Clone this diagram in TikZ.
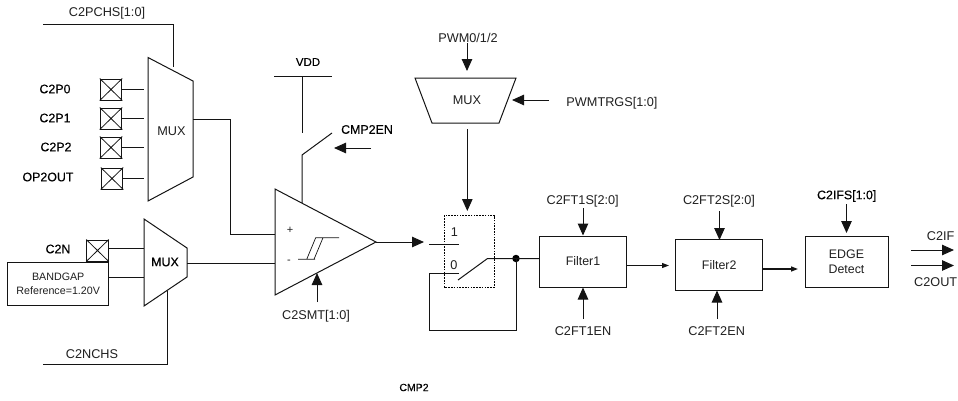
\documentclass[tikz,border=0pt]{standalone}
\usepackage{fontspec}
\setmainfont{Liberation Sans}
\newfontfamily\semibold[FakeBold=0.35]{Liberation Sans}
\usetikzlibrary{arrows.meta}
\tikzset{
  x=1pt,y=-1pt,
  wire/.style={draw=black!92,line width=1pt},
  fat/.style={wire,-{Triangle[length=12pt,width=10.5pt]}},
  slim/.style={wire,-{Triangle[length=7pt,width=5pt]}},
  lbl/.style={inner sep=0pt,font=\fontsize{12.7}{14}\selectfont,text=black!88},
  blbl/.style={inner sep=0pt,font=\semibold\fontsize{12.4}{14}\selectfont,text=black},
  block/.style={draw=black!92,line width=1pt,inner sep=0pt,align=center,font=\fontsize{12.4}{15.5}\selectfont,text=black!88},
  pad/.style={draw=black!92,line width=1pt,minimum width=21.5pt,minimum height=21pt,inner sep=0pt},
  padx/.style={wire,line width=0.8pt},
  shapeline/.style={wire,line join=miter},
}
\newcommand{\padcross}[1]{\draw[padx] (#1.north west)--(#1.south east) (#1.north east)--(#1.south west);}
\begin{document}
\begin{tikzpicture}
\useasboundingbox (0,0) rectangle (958,400);
% positive input multiplexer
\draw[shapeline] (148,57.5)--(193,81)--(193,177)--(148,201)--cycle;
\node[lbl] (muxp) at (171.5,131) {MUX};
\node[lbl] (lchs) at (107,13) {C2PCHS[1:0]};
\coordinate (chsa) at (43,24); \coordinate (chsb) at (173,67);
\draw[wire] (chsa) -| (chsb);
\node[pad] (p0) at (111,89.5) {}; \padcross{p0}
\node[pad] (p1) at (111,118.5) {}; \padcross{p1}
\node[pad] (p2) at (111,147.5) {}; \padcross{p2}
\node[pad] (p3) at (112,178.5) {}; \padcross{p3}
\node[blbl] (l0) at (55,89) {C2P0};
\node[blbl] (l1) at (55,118) {C2P1};
\node[blbl] (l2) at (56,147) {C2P2};
\node[blbl] (l3) at (48,177) {OP2OUT};
\coordinate (e0) at (144,89.5); \coordinate (e1) at (144,118.5);
\coordinate (e2) at (144,147.5); \coordinate (e3) at (144,178.5);
\draw[wire] (p0.east)--(e0); \draw[wire] (p1.east)--(e1);
\draw[wire] (p2.east)--(e2); \draw[wire] (p3.east)--(e3);
% negative input multiplexer
\draw[shapeline] (144,219)--(187,248)--(187,277)--(144,306)--cycle;
\node[blbl] (muxn) at (165,262) {MUX};
\node[blbl] (c2n) at (58,249) {C2N};
\node[pad] (pn) at (97.5,250.5) {}; \padcross{pn}
\node[block,minimum width=100.5pt,minimum height=43.5pt,font=\fontsize{10.7}{14}\selectfont] (bg) at (58.2,284.2) {BANDGAP\\Reference=1.20V};
\coordinate (en) at (144,248); \coordinate (eb) at (144,277);
\draw[wire] (108.2,248)--(en);
\draw[wire] (108.5,277)--(eb);
\node[lbl] (lnchs) at (92,354) {C2NCHS};
\coordinate (nchsa) at (43,364); \coordinate (nchsb) at (167,291);
\draw[wire] (nchsa) -| (nchsb);
% comparator
\draw[shapeline] (275,189)--(376,242)--(275,295)--cycle;
\coordinate (cmpout) at (376,242);
\coordinate (muxpout) at (193,119); \coordinate (cmpplus) at (275,234);
\draw[wire] (muxpout) -- (230,119) -- (230,234) -- (cmpplus);
\coordinate (muxnout) at (187,263); \coordinate (cmpminus) at (275,263);
\draw[wire] (muxnout)--(cmpminus);
\node[lbl,font=\fontsize{11}{12}\selectfont] (plus) at (290,230) {+};
\node[lbl,font=\fontsize{11}{12}\selectfont] (minus) at (289,262) {-};
\draw[wire,line width=0.7pt] (298,259.3)--(315,259.3) (306.7,259.3)--(315.7,237.7)--(339,237.7) (314,259.3)--(323,237.7);
\node[lbl] (lsmt) at (316,316) {C2SMT[1:0]};
\coordinate (smta) at (317,302); \coordinate (smtb) at (317,273);
\draw[fat] (smta)--(smtb);
% supply and enable
\node[blbl,font=\semibold\fontsize{11.5}{14}\selectfont] (vdd) at (308,62) {VDD};
\coordinate (va) at (274,76); \coordinate (vb) at (332,76);
\coordinate (vc) at (302,76); \coordinate (vd) at (302,133);
\coordinate (ve) at (332,133); \coordinate (vf) at (302,155); \coordinate (vg) at (302,203);
\draw[wire] (va)--(vb); \draw[wire] (vc)--(vd);
\draw[wire] (ve)--(vf)--(vg);
\node[blbl] (len) at (367,129.5) {CMP2EN};
\coordinate (ena) at (371,148); \coordinate (enb) at (334,148);
\draw[fat] (ena)--(enb);
% selector switch
\draw[draw=black,line width=0.7pt,dash pattern=on 1.6pt off 1.2pt] (444,215.5) rectangle (494.5,287);
\coordinate (sw1) at (424,242);
\draw[fat] (cmpout)--(sw1);
\coordinate (la) at (429,244); \coordinate (lb) at (459,244);
\draw[wire] (la)--(lb);
\node[lbl] (n1) at (454.5,232.5) {1};
\node[lbl] (n0) at (454,265.5) {0};
\coordinate (sa) at (458,280); \coordinate (sb) at (487.5,258.5);
\node[circle,fill=black,inner sep=0pt,minimum size=7.5pt] (dot) at (516,258.5) {};
\coordinate (za) at (459,273); \coordinate (zb) at (429,273);
\draw[wire] (za)--(zb)--(429,330)--(516,330)--(dot.center);
% PWM multiplexer
\draw[shapeline] (415,78)--(516,78)--(499,123)--(432,123)--cycle;
\node[lbl] (muxw) at (467,100) {MUX};
\node[lbl] (lpwm) at (468,38) {PWM0/1/2};
\coordinate (pa) at (467,43); \coordinate (pb) at (467,71);
\draw[fat] (pa)--(pb);
\node[lbl] (ltrg) at (612,103) {PWMTRGS[1:0]};
\coordinate (ta) at (549,100); \coordinate (tb) at (512,100);
\draw[fat] (ta)--(tb);
\coordinate (da) at (467.3,129); \coordinate (db) at (467.3,211);
\draw[fat] (da)--(db);
% filters
\node[block,minimum width=87pt,minimum height=51pt] (f1) at (583,261.5) {Filter1};
\node[block,minimum width=86.5pt,minimum height=50.5pt] (f2) at (719.2,265.2) {Filter2};
\node[block,minimum width=83pt,minimum height=51pt] (ed) at (846.5,261.5) {EDGE\\Detect};
\draw[wire] (sa)--(sb)--(f1.west |- sb);
\node[lbl] (l1s) at (582.7,201) {C2FT1S[2:0]};
\coordinate (a1s) at (583,208);
\draw[fat] (a1s)--(f1.north);
\node[lbl] (l1e) at (583,331.5) {C2FT1EN};
\coordinate (a1e) at (583,319);
\draw[fat] (a1e)--(f1.south);
\node[lbl] (l2s) at (719,201) {C2FT2S[2:0]};
\coordinate (a2s) at (719.5,211);
\draw[fat] (a2s)--(719.5,240);
\node[lbl] (l2e) at (716.7,331.5) {C2FT2EN};
\coordinate (a2e) at (717,319);
\draw[fat] (a2e)--(717,290.5);
\node[blbl] (lifs) at (846.7,196) {C2IFS[1:0]};
\coordinate (ais) at (846.5,204); \coordinate (aie) at (846.5,233);
\draw[fat] (ais)--(aie);
\coordinate (t2) at (669,265.5);
\draw[slim] (f1.east |- t2)--(t2);
\coordinate (t3) at (798,269);
\draw[slim,line width=1.3pt] (f2.east |- t3)--(t3);
% outputs
\node[lbl] (lif) at (940.7,235.7) {C2IF};
\node[lbl] (lout) at (935.7,282) {C2OUT};
\coordinate (oa) at (911,250); \coordinate (ob) at (954,250);
\coordinate (oc) at (911,265.5); \coordinate (od) at (954,265.5);
\draw[fat] (oa)--(ob); \draw[fat] (oc)--(od);
\node[blbl,font=\semibold\fontsize{10.5}{12}\selectfont] (title) at (414,387.5) {CMP2};
\end{tikzpicture}
\end{document}
